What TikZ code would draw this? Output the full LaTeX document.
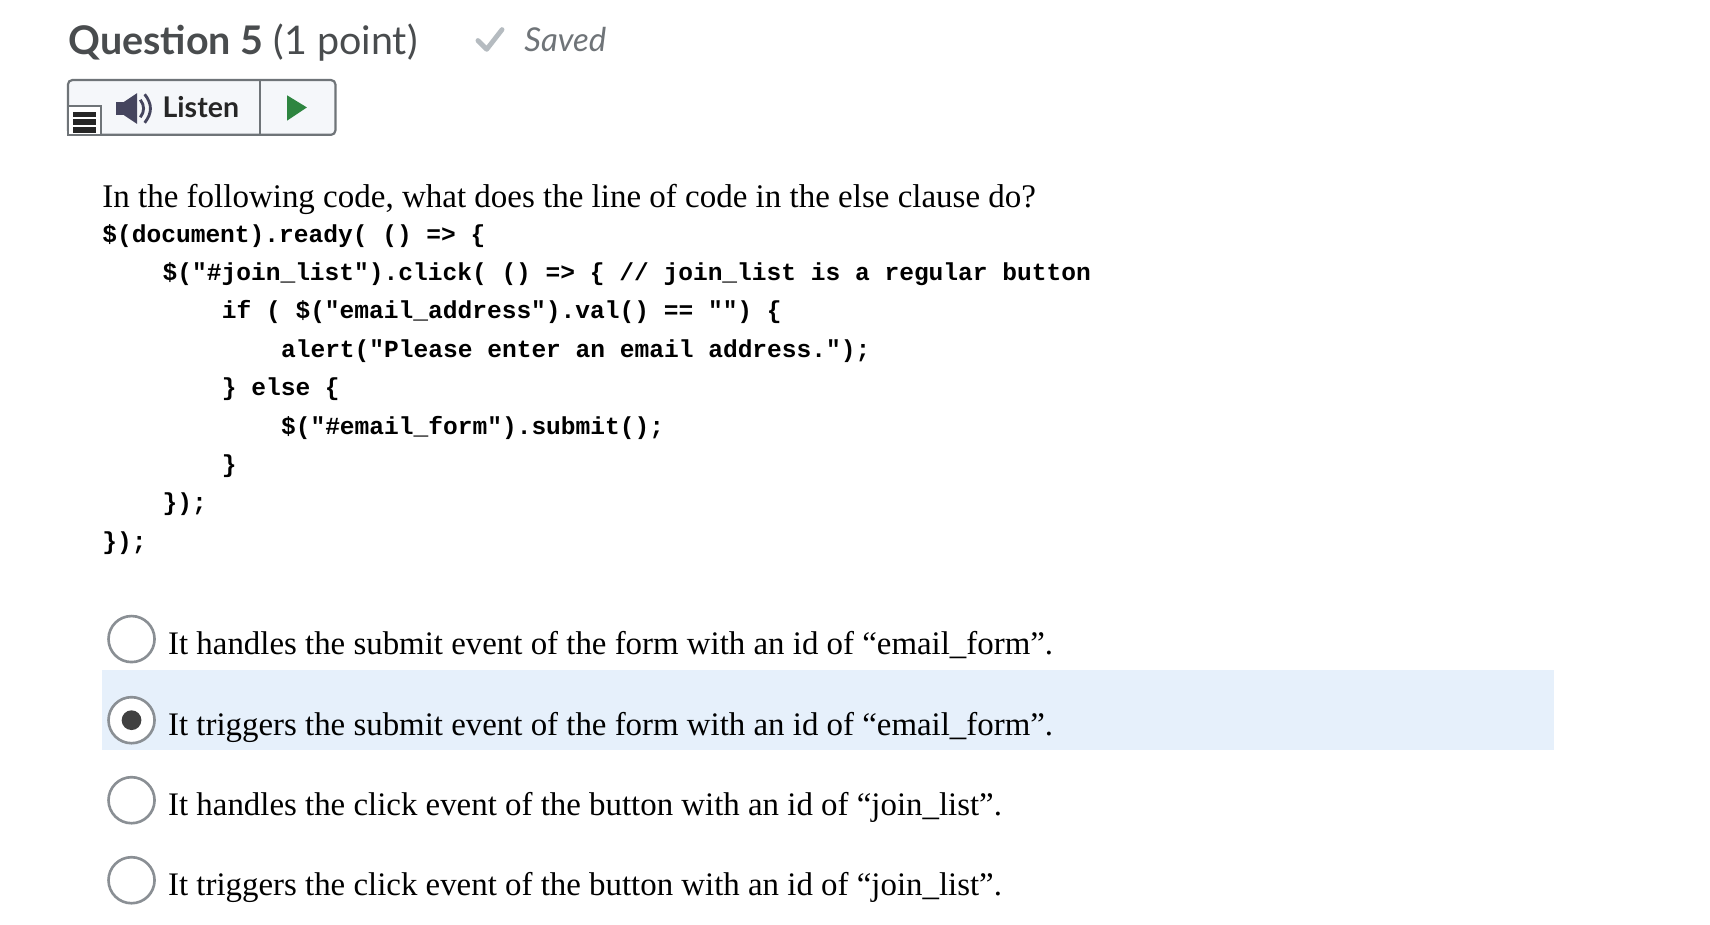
\documentclass[tikz,border=0pt]{standalone}
\usepackage{fontspec}
\setmainfont{Liberation Serif}
\newfontfamily\lato{Lato}
\newfontfamily\codef{Liberation Mono}
\definecolor{hdr}{HTML}{494C4E}
\definecolor{savedgray}{HTML}{6F7478}
\definecolor{chk}{HTML}{B5BBC0}
\definecolor{btnfill}{HTML}{F5F7FA}
\definecolor{btnline}{HTML}{6F7478}
\definecolor{hl}{HTML}{E6F0FB}
\definecolor{radio}{HTML}{8A8F94}
\definecolor{playg}{HTML}{2E8540}
\definecolor{spk}{HTML}{45455E}
\begin{document}
\begin{tikzpicture}[x=0.5pt,y=-0.5pt,
  code/.style={anchor=base west,inner sep=0pt,font=\codef\bfseries\fontsize{11.2}{13}\selectfont},
  choice/.style={anchor=base west,inner sep=0pt,font=\fontsize{15.0}{18}\selectfont},
  radiobtn/.style={circle,draw=radio,line width=1.2pt,fill=white,minimum size=21pt,inner sep=0pt}]
\useasboundingbox (0,0) rectangle (1560,843);
\fill[white] (0,0) rectangle (1560,843);
% header
\node[anchor=base west,inner sep=0pt,text=hdr,font=\lato\fontsize{18}{22}\selectfont] (title) at (62,50) {\textbf{Question 5} (1 point)};
\draw[chk,line width=2.2pt,line cap=round,line join=round] (436,37) -- (444,45) -- (458,27);
\node[anchor=base west,inner sep=0pt,text=savedgray,font=\lato\itshape\fontsize{15}{18}\selectfont] (saved) at (478,47) {Saved};
% listen button
\draw[btnline,fill=btnfill,line width=1pt,rounded corners=2pt] (62,73) rectangle (306,123);
\draw[btnline,line width=1pt] (237,73) -- (237,123);
\draw[btnline,line width=0.8pt,fill=white] (62,97) rectangle (92,123);
\foreach \yy in {102,109,116} \fill[black!85] (67,\yy) rectangle (88,\yy+5);
\fill[spk] (113,93) -- (125,85) -- (125,113) -- (113,105) -- cycle;
\fill[spk] (106,93) rectangle (114,105);
\draw[spk,line width=1.3pt] (128,91) .. controls (132,96) and (132,102) .. (128,107);
\draw[spk,line width=1.3pt] (132,86) .. controls (139,95) and (139,103) .. (132,112);
\node[anchor=base west,inner sep=0pt,text=black!85,font=\lato\bfseries\fontsize{13}{16}\selectfont] (listen) at (148,107) {Listen};
\fill[playg] (262,87) -- (280,98) -- (262,110) -- cycle;
% question
\node[choice,font=\fontsize{15.05}{18}\selectfont] (q) at (93,189) {In the following code, what does the line of code in the else clause do?};
\node[code] (c1) at (93,221) {\$(document).ready( () => \{};
\node[code] (c2) at (148,256) {\$("\#join\_list").click( () => \{ // join\_list is a regular button};
\node[code] (c3) at (202,291) {if ( \$("email\_address").val() == "") \{};
\node[code] (c4) at (256,326) {alert("Please enter an email address.");};
\node[code] (c5) at (202,361) {\} else \{};
\node[code] (c6) at (256,396) {\$("\#email\_form").submit();};
\node[code] (c7) at (202,431) {\}};
\node[code] (c8) at (148,466) {\});};
\node[code] (c9) at (93,501) {\});};
% choices
\fill[hl] (93,611) rectangle (1418,684);
\node[radiobtn] (r1) at (120,583) {};
\node[radiobtn] (r2) at (120,657) {};
\fill[black!75] (r2) circle (9);
\node[radiobtn] (r3) at (120,730) {};
\node[radiobtn] (r4) at (120,803) {};
\node[choice] (a1) at (153,597) {It handles the submit event of the form with an id of “email\_form”.};
\node[choice] (a2) at (153,671) {It triggers the submit event of the form with an id of “email\_form”.};
\node[choice] (a3) at (153,744) {It handles the click event of the button with an id of “join\_list”.};
\node[choice] (a4) at (153,817) {It triggers the click event of the button with an id of “join\_list”.};
\end{tikzpicture}
\end{document}
